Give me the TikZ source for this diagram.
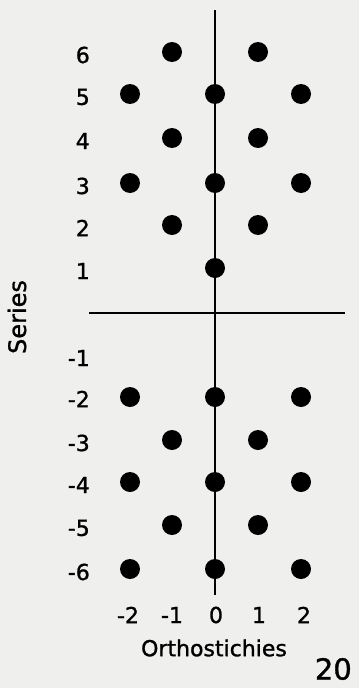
\documentclass[tikz,border=0pt]{standalone}
\usepackage{fontspec}
\setmainfont{DejaVu Sans}[FakeBold=1.2]
\usepackage{tikz}
\usetikzlibrary{positioning}
\definecolor{paper}{RGB}{239,240,238}

\begin{document}
\begin{tikzpicture}[x=1pt,y=-1pt,font=\fontsize{22}{22}\selectfont]
\tikzstyle{dot}=[circle,fill=black,inner sep=0pt,minimum size=20pt]
\tikzstyle{axis}=[line width=2.6pt]
\tikzstyle{lbl}=[anchor=east,inner sep=0pt]
\tikzstyle{col}=[inner sep=0pt]
\fill[paper] (0,0) rectangle (359,688);
% axes
\coordinate (top) at (215,10);
\coordinate (bot) at (215,595);
\coordinate (lft) at (89,313);
\coordinate (rgt) at (345,313);
\draw[axis] (top) -- (bot);
\draw[axis] (lft) -- (rgt);
% series above the axis
\node[dot] (p6a) at (172,52) {}; \node[dot] (p6b) at (258,52) {};
\node[dot] (p5a) at (130,94) {}; \node[dot] (p5b) at (215,94) {};
\node[dot] (p5c) at (301,94) {};
\node[dot] (p4a) at (172,138) {}; \node[dot] (p4b) at (258,138) {};
\node[dot] (p3a) at (130,183) {}; \node[dot] (p3b) at (215,183) {};
\node[dot] (p3c) at (301,183) {};
\node[dot] (p2a) at (172,225) {}; \node[dot] (p2b) at (258,225) {};
\node[dot] (p1a) at (215,268) {};
% series below the axis
\node[dot] (m2a) at (130,397) {}; \node[dot] (m2b) at (215,397) {};
\node[dot] (m2c) at (301,397) {};
\node[dot] (m3a) at (172,440) {}; \node[dot] (m3b) at (258,440) {};
\node[dot] (m4a) at (130,482) {}; \node[dot] (m4b) at (215,482) {};
\node[dot] (m4c) at (301,482) {};
\node[dot] (m5a) at (172,525) {}; \node[dot] (m5b) at (258,525) {};
\node[dot] (m6a) at (130,569) {}; \node[dot] (m6b) at (215,569) {};
\node[dot] (m6c) at (301,569) {};
% row numbers
\node[lbl] (s6) at (90,55) {6};
\node[lbl] (s5) at (90,97) {5};
\node[lbl] (s4) at (90,141) {4};
\node[lbl] (s3) at (90,186) {3};
\node[lbl] (s2) at (90,228) {2};
\node[lbl] (s1) at (90,271) {1};
\node[lbl] (sm1) at (90,358) {-1};
\node[lbl] (sm2) at (90,399) {-2};
\node[lbl] (sm3) at (90,443) {-3};
\node[lbl] (sm4) at (90,485) {-4};
\node[lbl] (sm5) at (90,528) {-5};
\node[lbl] (sm6) at (90,572) {-6};
% column numbers
\node[col] (om2) at (128,615) {-2};
\node[col] (om1) at (172,615) {-1};
\node[col] (o0) at (216,615) {0};
\node[col] (o1) at (259,615) {1};
\node[col] (o2) at (304,615) {2};
\node[col] (orth) at (214,648) {Orthostichies};
\node[col,rotate=90,font=\fontsize{24}{24}\selectfont] (ser) at (17,317) {Series};
\node[col,anchor=east,font=\fontsize{29}{29}\selectfont] (pg) at (352,669) {20};
\end{tikzpicture}
\end{document}
